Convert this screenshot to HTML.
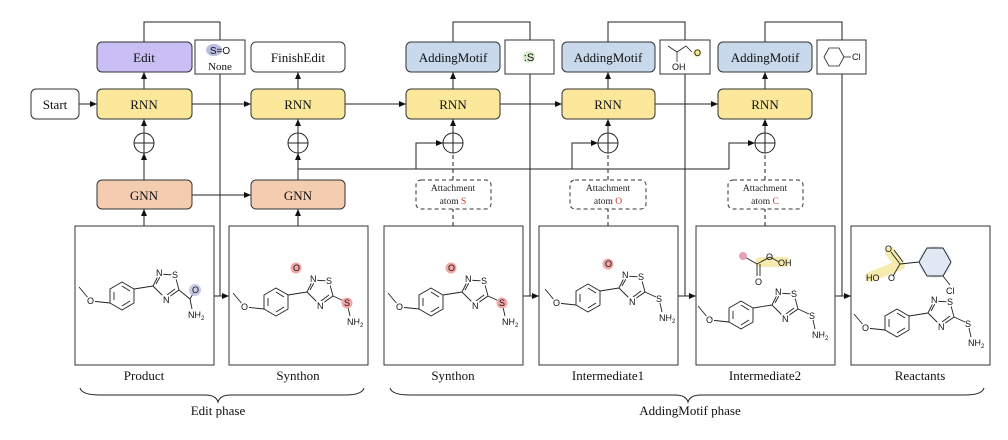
<!DOCTYPE html>
<html><head><meta charset="utf-8"><style>
html,body{margin:0;padding:0;background:#fff;}
svg{display:block;font-family:"Liberation Serif",serif;}
.m{font-family:"Liberation Sans",sans-serif;font-size:9px;fill:#111;stroke:#fff;stroke-width:3px;paint-order:stroke;}
.n{font-family:"Liberation Sans",sans-serif;font-size:9px;fill:#111;}
</style></head><body>
<svg width="1008" height="440" viewBox="0 0 1008 440" xmlns="http://www.w3.org/2000/svg">
<defs>
<marker id="ar" markerWidth="8" markerHeight="8" refX="7" refY="4" orient="auto" markerUnits="userSpaceOnUse">
<path d="M0,1 L7,4 L0,7 z" fill="#111"/></marker>
<g id="core">
<g stroke="#222" stroke-width="0.9" fill="none">
<polygon points="12,-7 0,-14 -12,-7 -12,7 0,14 12,7"/>
<line x1="8" y1="-5" x2="0" y2="-10"/><line x1="-8" y1="4" x2="-8" y2="-4"/><line x1="0" y1="10" x2="8" y2="5"/>
<line x1="-12" y1="7" x2="-31" y2="5"/><line x1="-33" y1="3" x2="-43" y2="-9"/>
<line x1="12" y1="-7" x2="31" y2="-10"/>
<polygon points="31,-10 37,-22 53,-21 57,-6 44,3"/>
<line x1="34" y1="-12" x2="39" y2="-21"/><line x1="53" y1="-7" x2="45" y2="-1"/>
</g>
<text class="m" x="-35" y="8">O</text>
<text class="m" x="34" y="-20">N</text>
<text class="m" x="50" y="-18">S</text>
<text class="m" x="41" y="7">N</text>
</g>
<g id="sn">
<line x1="57" y1="-6" x2="68" y2="-1" stroke="#222" stroke-width="0.9"/>
<line x1="72" y1="5" x2="74" y2="14" stroke="#222" stroke-width="0.9"/>
<text class="n" x="68" y="4">S</text>
<text class="m" x="71" y="23">NH<tspan font-size="6" dy="2">2</tspan></text>
</g>
</defs>
<g fill="none" stroke="#222" stroke-width="1">
<polyline points="144,42 144,22 220,22 220,40"/>
<polyline points="453,42 453,22 530,22 530,40"/>
<polyline points="608,42 608,22 685,22 685,40"/>
<polyline points="765,42 765,22 842,22 842,40"/>
<line x1="220" y1="74" x2="220" y2="296"/>
<line x1="530" y1="74" x2="530" y2="296"/>
<line x1="685" y1="74" x2="685" y2="296"/>
<line x1="842" y1="74" x2="842" y2="296"/>
<line x1="214" y1="296" x2="229" y2="296" marker-end="url(#ar)"/>
<line x1="523" y1="296" x2="539" y2="296" marker-end="url(#ar)"/>
<line x1="678" y1="296" x2="696" y2="296" marker-end="url(#ar)"/>
<line x1="835" y1="296" x2="851" y2="296" marker-end="url(#ar)"/>
<line x1="79" y1="104" x2="97" y2="104" marker-end="url(#ar)"/>
<line x1="192" y1="104" x2="251" y2="104" marker-end="url(#ar)"/>
<line x1="345" y1="104" x2="406" y2="104" marker-end="url(#ar)"/>
<line x1="500" y1="104" x2="562" y2="104" marker-end="url(#ar)"/>
<line x1="655" y1="104" x2="718" y2="104" marker-end="url(#ar)"/>
<line x1="192" y1="195" x2="251" y2="195" marker-end="url(#ar)"/>
<line x1="144" y1="89" x2="144" y2="72" marker-end="url(#ar)"/>
<line x1="298" y1="89" x2="298" y2="72" marker-end="url(#ar)"/>
<line x1="453" y1="89" x2="453" y2="72" marker-end="url(#ar)"/>
<line x1="608" y1="89" x2="608" y2="72" marker-end="url(#ar)"/>
<line x1="765" y1="89" x2="765" y2="72" marker-end="url(#ar)"/>
<line x1="144" y1="133" x2="144" y2="119" marker-end="url(#ar)"/>
<line x1="298" y1="133" x2="298" y2="119" marker-end="url(#ar)"/>
<line x1="453" y1="133" x2="453" y2="119" marker-end="url(#ar)"/>
<line x1="608" y1="133" x2="608" y2="119" marker-end="url(#ar)"/>
<line x1="765" y1="133" x2="765" y2="119" marker-end="url(#ar)"/>
<line x1="144" y1="180" x2="144" y2="153" marker-end="url(#ar)"/>
<line x1="298" y1="180" x2="298" y2="153" marker-end="url(#ar)"/>
<line x1="144" y1="226" x2="144" y2="209" marker-end="url(#ar)"/>
<line x1="298" y1="226" x2="298" y2="209" marker-end="url(#ar)"/>
<polyline points="298,169 729,169"/>
<polyline points="416,169 416,143 443,143" marker-end="url(#ar)"/>
<polyline points="572,169 572,143 598,143" marker-end="url(#ar)"/>
<polyline points="729,169 729,143 755,143" marker-end="url(#ar)"/>
<g stroke-dasharray="4,3">
<line x1="453" y1="226" x2="453" y2="209"/><line x1="453" y1="180" x2="453" y2="155"/>
<line x1="608" y1="226" x2="608" y2="209"/><line x1="608" y1="180" x2="608" y2="155"/>
<line x1="765" y1="226" x2="765" y2="209"/><line x1="765" y1="180" x2="765" y2="155"/>
</g>
<g>
<circle cx="144" cy="143" r="10"/><line x1="134" y1="143" x2="154" y2="143"/><line x1="144" y1="133" x2="144" y2="153"/>
<circle cx="298" cy="143" r="10"/><line x1="288" y1="143" x2="308" y2="143"/><line x1="298" y1="133" x2="298" y2="153"/>
<circle cx="453" cy="143" r="10"/><line x1="443" y1="143" x2="463" y2="143"/><line x1="453" y1="133" x2="453" y2="153"/>
<circle cx="608" cy="143" r="10"/><line x1="598" y1="143" x2="618" y2="143"/><line x1="608" y1="133" x2="608" y2="153"/>
<circle cx="765" cy="143" r="10"/><line x1="755" y1="143" x2="775" y2="143"/><line x1="765" y1="133" x2="765" y2="153"/>
</g>
</g>
<g stroke="#333" stroke-width="1">
<rect x="31" y="89" width="48" height="30" rx="5" fill="#fff"/>
<rect x="97" y="42" width="95" height="30" rx="5" fill="#c9bff5"/>
<rect x="251" y="42" width="94" height="30" rx="5" fill="#fff"/>
<rect x="406" y="42" width="94" height="30" rx="5" fill="#c7d9ea"/>
<rect x="562" y="42" width="93" height="30" rx="5" fill="#c7d9ea"/>
<rect x="718" y="42" width="94" height="30" rx="5" fill="#c7d9ea"/>
<rect x="97" y="89" width="95" height="30" rx="5" fill="#fbe89a"/>
<rect x="251" y="89" width="94" height="30" rx="5" fill="#fbe89a"/>
<rect x="406" y="89" width="94" height="30" rx="5" fill="#fbe89a"/>
<rect x="562" y="89" width="93" height="30" rx="5" fill="#fbe89a"/>
<rect x="718" y="89" width="94" height="30" rx="5" fill="#fbe89a"/>
<rect x="97" y="180" width="95" height="29" rx="5" fill="#f4ccb0"/>
<rect x="251" y="180" width="94" height="29" rx="5" fill="#f4ccb0"/>
<rect x="195" y="40" width="50" height="34" fill="#fff"/>
<rect x="505" y="40" width="49" height="34" fill="#fff"/>
<rect x="660" y="40" width="50" height="34" fill="#fff"/>
<rect x="817" y="40" width="49" height="34" fill="#fff"/>
<g stroke-dasharray="4,3" fill="#fff">
<rect x="416" y="180" width="75" height="29" rx="5"/>
<rect x="570" y="180" width="76" height="29" rx="5"/>
<rect x="728" y="180" width="75" height="29" rx="5"/>
</g>
<g fill="#fff">
<rect x="75" y="226" width="139" height="139"/>
<rect x="229" y="226" width="139" height="139"/>
<rect x="384" y="226" width="139" height="139"/>
<rect x="539" y="226" width="139" height="139"/>
<rect x="696" y="226" width="139" height="139"/>
<rect x="851" y="226" width="139" height="139"/>
</g>
</g>
<g font-size="13" fill="#111" text-anchor="middle">
<text x="55" y="109">Start</text>
<text x="144" y="62">Edit</text>
<text x="298" y="62">FinishEdit</text>
<text x="453" y="62">AddingMotif</text>
<text x="608" y="62">AddingMotif</text>
<text x="765" y="62">AddingMotif</text>
<text x="144" y="109">RNN</text><text x="298" y="109">RNN</text><text x="453" y="109">RNN</text><text x="608" y="109">RNN</text><text x="765" y="109">RNN</text>
<text x="144" y="200">GNN</text><text x="298" y="200">GNN</text>
<text x="220" y="70" font-size="11">None</text>
<text x="144" y="380">Product</text><text x="298" y="380">Synthon</text><text x="453" y="380">Synthon</text>
<text x="608" y="380">Intermediate1</text><text x="765" y="380">Intermediate2</text><text x="920" y="380">Reactants</text>
<text x="218" y="415">Edit phase</text><text x="690" y="415">AddingMotif phase</text>
</g>
<g font-size="9.5" fill="#222" text-anchor="middle">
<text x="453" y="191">Attachment</text><text x="453" y="204">atom <tspan fill="#c0392b">S</tspan></text>
<text x="608" y="191">Attachment</text><text x="608" y="204">atom <tspan fill="#c0392b">O</tspan></text>
<text x="765" y="191">Attachment</text><text x="765" y="204">atom <tspan fill="#c0392b">C</tspan></text>
</g>
<path d="M80,388 Q82,395 100,395 L205,395 Q216,395 218,402 Q220,395 231,395 L345,395 Q362,395 364,388" fill="none" stroke="#222"/>
<path d="M390,388 Q392,395 410,395 L675,395 Q686,395 688,402 Q690,395 701,395 L965,395 Q982,395 984,388" fill="none" stroke="#222"/>
<ellipse cx="214" cy="50" rx="8" ry="6" fill="#b9bde0"/>
<text x="220" y="54" font-family="Liberation Sans,sans-serif" font-size="10" fill="#111" text-anchor="middle">S=O</text>
<circle cx="529" cy="57" r="6" fill="#d6ecc8"/>
<text x="529" y="61" font-family="Liberation Sans,sans-serif" font-size="11" fill="#111" text-anchor="middle">:S</text>
<g stroke="#222" stroke-width="0.8" fill="none"><polyline points="668,46 677,52 686,46 692,52"/><line x1="677" y1="52" x2="677" y2="62"/></g>
<circle cx="697" cy="53" r="4" fill="#f3e79a"/>
<text x="694" y="56" class="n">O</text><text x="672" y="70" class="m">OH</text>
<polygon points="824,57 829,48 839,48 844,57 839,66 829,66" fill="none" stroke="#222" stroke-width="0.8"/>
<line x1="844" y1="57" x2="852" y2="57" stroke="#222" stroke-width="0.8"/>
<text x="852" y="60" class="m">Cl</text>
<!-- product -->
<g transform="translate(122,296)">
<use href="#core"/>
<g stroke="#222" stroke-width="0.9"><line x1="57" y1="-6" x2="68" y2="3"/><line x1="68" y1="3" x2="72" y2="-4"/><line x1="68" y1="3" x2="70" y2="13"/></g>
<circle cx="73" cy="-6" r="6" fill="#b9bde0" opacity="0.8"/>
<text class="n" x="70" y="-3">O</text><text class="m" x="66" y="22">NH<tspan font-size="6" dy="2">2</tspan></text>
</g>
<!-- synthon 1 -->
<g transform="translate(276,302)">
<use href="#core"/><use href="#sn"/>
<circle cx="20" cy="-34" r="5.5" fill="#f2a6a6"/>
<circle cx="71" cy="1" r="5.5" fill="#f2a6a6"/>
<text class="n" x="17" y="-31">O</text><text class="n" x="68" y="4">S</text>
</g>
<!-- synthon 2 -->
<g transform="translate(431,302)">
<use href="#core"/><use href="#sn"/>
<circle cx="20" cy="-34" r="5.5" fill="#f2a6a6"/>
<circle cx="71" cy="1" r="5.5" fill="#f2a6a6"/>
<text class="n" x="17" y="-31">O</text><text class="n" x="68" y="4">S</text>
</g>
<!-- intermediate1 -->
<g transform="translate(588,298)">
<use href="#core"/><use href="#sn"/>
<circle cx="20" cy="-34" r="5.5" fill="#f2a6a6"/>
<text class="n" x="17" y="-31">O</text>
</g>
<!-- intermediate2 -->
<g transform="translate(741,315)">
<use href="#core"/><use href="#sn"/>
</g>
<path d="M760,262 L785,262" stroke="#f3e79a" stroke-width="10" stroke-linecap="round" opacity="0.8"/>
<g stroke="#222" stroke-width="0.9" fill="none"><polyline points="743,256 757,264 770,257 779,262"/><line x1="757" y1="264" x2="757" y2="276"/><line x1="760" y1="264" x2="760" y2="276"/></g>
<circle cx="743" cy="256" r="4" fill="#e8a0b8"/>
<text class="n" x="766" y="260">O</text><text class="m" x="755" y="285">O</text><text class="n" x="778" y="266">OH</text>
<!-- reactants -->
<g transform="translate(897,323)">
<use href="#core"/><use href="#sn"/>
</g>
<path d="M870,277 L900,265 L890,252" stroke="#f3e79a" stroke-width="10" stroke-linecap="round" stroke-linejoin="round" fill="none" opacity="0.8"/>
<circle cx="935" cy="262" r="16" fill="#d3e0ee" opacity="0.7"/>
<g stroke="#222" stroke-width="0.9" fill="none">
<polygon points="919,262 927,248 943,248 951,262 943,276 927,276"/>
<line x1="919" y1="262" x2="900" y2="264"/><line x1="900" y1="264" x2="891" y2="252"/><line x1="903" y1="262" x2="894" y2="250"/>
<line x1="900" y1="264" x2="893" y2="276"/>
<line x1="943" y1="276" x2="950" y2="285"/>
</g>
<text class="n" x="885" y="252">O</text><text class="n" x="888" y="281">O</text><text class="n" x="866" y="281">HO</text><text class="m" x="946" y="294">Cl</text>
</svg>
</body></html>
